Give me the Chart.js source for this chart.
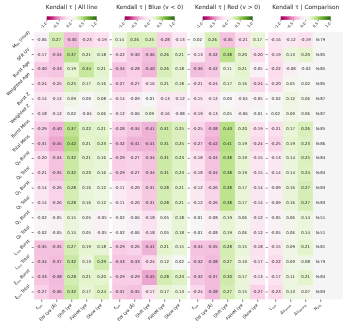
<!DOCTYPE html>
<html>
<head>
<meta charset="utf-8">
<script src="https://cdn.jsdelivr.net/npm/chart.js@4.4.0/dist/chart.umd.min.js"></script>
<style>
html,body{margin:0;padding:0;background:#fff}
#wrap{position:relative;width:347px;height:325px}
#wrap canvas{position:absolute;left:0;top:0}
</style>
</head>
<body>
<div id="wrap">
<canvas id="c0" width="347" height="325"></canvas>
<canvas id="c1" width="347" height="325"></canvas>
<canvas id="c2" width="347" height="325"></canvas>
<canvas id="c3" width="347" height="325"></canvas>
</div>
<script>
// rows / columns
const rowLabels = ['M_{bh} (mod)', 'SFR UV', 'Burst Age', 'Weighted Age', 'Burst Z', 'Weighted Z',
  'Burst Mass', 'Total Mass', 'Q_{0} Burst', 'Q_{0} Total', 'Q_{1} Burst', 'Q_{1} Total',
  'Q_{2} Burst', 'Q_{2} Total', 'L_{ion} Burst', 'L_{ion} Total', 'ξ_{ion} Burst', 'ξ_{ion} Total']
const lineCols = ['f_{Lyα}', 'EW Lyα (Å)', 'Shift Lyα', 'FWHM Lyα', 'Skew Lyα']
const cmpCols = ['L_{Lyα}', 'Δv_{weak}', 'Δv_{strong}', 'N_{obj}']
const titles = ['Kendall τ | All line', 'Kendall τ | Blue (v < 0)', 'Kendall τ | Red (v > 0)', 'Kendall τ | Comparison']
const cbTicks = [-1.0, -0.5, 0.0, 0.5, 1.0]

// kendall tau values
const tauAll = [
  [-0.06, 0.27, -0.36, -0.23, -0.19],
  [-0.17, -0.34, 0.37, 0.21, 0.18],
  [-0.30, -0.33, 0.19, 0.34, 0.21],
  [-0.24, -0.25, 0.25, 0.17, 0.16],
  [-0.14, -0.12, 0.09, 0.00, 0.08],
  [-0.18, -0.12, 0.02, -0.04, 0.06],
  [-0.29, -0.40, 0.37, 0.22, 0.21],
  [-0.31, -0.45, 0.42, 0.21, 0.23],
  [-0.20, -0.34, 0.32, 0.21, 0.16],
  [-0.21, -0.35, 0.32, 0.20, 0.16],
  [-0.14, -0.26, 0.28, 0.16, 0.12],
  [-0.14, -0.26, 0.28, 0.16, 0.12],
  [-0.02, -0.05, 0.15, 0.05, -0.05],
  [-0.02, -0.05, 0.15, 0.05, -0.05],
  [-0.35, -0.35, 0.27, 0.19, 0.18],
  [-0.34, -0.37, 0.32, 0.13, 0.29],
  [-0.33, -0.38, 0.28, 0.21, 0.20],
  [-0.27, -0.36, 0.32, 0.17, 0.24]
]
const tauBlue = [
  [0.14, 0.26, 0.25, -0.28, -0.13],
  [-0.22, -0.30, -0.36, 0.26, 0.21],
  [-0.34, -0.28, -0.40, 0.26, 0.18],
  [-0.27, -0.27, -0.16, 0.21, 0.18],
  [-0.14, -0.09, -0.01, -0.13, -0.12],
  [-0.12, -0.06, 0.09, -0.16, -0.08],
  [-0.28, -0.34, -0.41, 0.31, 0.25],
  [-0.32, -0.41, -0.41, 0.31, 0.25],
  [-0.29, -0.27, -0.34, 0.31, 0.23],
  [-0.29, -0.27, -0.34, 0.31, 0.23],
  [-0.11, -0.20, -0.31, 0.28, 0.21],
  [-0.11, -0.20, -0.31, 0.28, 0.21],
  [-0.02, -0.06, -0.18, 0.05, 0.18],
  [-0.02, -0.06, -0.18, 0.05, 0.18],
  [-0.29, -0.26, -0.41, 0.21, 0.15],
  [-0.33, -0.33, -0.24, 0.12, 0.02],
  [-0.29, -0.29, -0.45, 0.28, 0.23],
  [-0.31, -0.35, -0.17, 0.17, 0.13]
]
const tauRed = [
  [0.02, 0.26, -0.35, -0.21, 0.17],
  [-0.13, -0.32, 0.38, 0.20, -0.20],
  [-0.36, -0.32, 0.11, 0.21, -0.05],
  [-0.21, -0.24, 0.17, 0.16, -0.24],
  [-0.15, -0.12, 0.00, -0.04, -0.05],
  [-0.19, -0.13, 0.05, -0.06, -0.01],
  [-0.25, -0.38, 0.40, 0.20, -0.19],
  [-0.27, -0.42, 0.41, 0.19, -0.24],
  [-0.18, -0.34, 0.38, 0.19, -0.15],
  [-0.18, -0.34, 0.38, 0.19, -0.15],
  [-0.12, -0.26, 0.38, 0.17, -0.14],
  [-0.12, -0.26, 0.38, 0.17, -0.14],
  [-0.01, -0.08, 0.19, 0.06, -0.12],
  [-0.01, -0.08, 0.19, 0.06, -0.12],
  [-0.34, -0.35, 0.28, 0.15, -0.18],
  [-0.32, -0.38, 0.27, 0.10, -0.17],
  [-0.32, -0.37, 0.30, 0.17, -0.13],
  [-0.24, -0.38, 0.27, 0.15, -0.27]
]
const tauCmp = [
  [-0.16, -0.12, -0.19],
  [-0.19, 0.13, 0.20],
  [-0.22, -0.08, -0.02],
  [-0.20, 0.05, 0.02],
  [-0.02, 0.12, 0.06],
  [0.02, 0.09, 0.06],
  [-0.21, 0.17, 0.26],
  [-0.25, 0.19, 0.23],
  [-0.13, 0.14, 0.25],
  [-0.14, 0.14, 0.24],
  [-0.09, 0.16, 0.27],
  [-0.09, 0.16, 0.27],
  [-0.05, 0.06, 0.14],
  [-0.05, 0.06, 0.14],
  [-0.15, 0.09, 0.21],
  [-0.22, 0.09, 0.08],
  [-0.17, 0.11, 0.21],
  [-0.23, 0.13, 0.07]
]
const nObj = [79, 85, 85, 85, 87, 87, 85, 86, 84, 84, 83, 83, 51, 51, 81, 79, 84, 83]

// PiYG
const piyg = ['#8e0152', '#c51b7d', '#de77ae', '#f1b6da', '#fde0ef', '#f7f7f7', '#e6f5d0', '#b8e186', '#7fbc41', '#4d9221', '#276419']
function hex(c){ return [parseInt(c.slice(1,3),16), parseInt(c.slice(3,5),16), parseInt(c.slice(5,7),16)] }
function colorFor(v){
  let t = (v + 1) / 2 * 10
  t = Math.max(0, Math.min(10, t))
  let i = Math.min(9, Math.floor(t)), f = t - i
  let a = hex(piyg[i]), b = hex(piyg[i+1])
  return 'rgb(' + [0,1,2].map(k => Math.round(a[k] + (b[k]-a[k])*f)).join(',') + ')'
}
const emptyCol = '#f5f5f5'

const FONT = '"DejaVu Sans", sans-serif'
const top0 = 32.3, rowH = 14.84, colW = 15
const groupLeft = [34.2, 112.2, 190.2, 268.2]

function parseRich(s){
  let parts = s.split(/_\{([^}]*)\}/)
  return parts.map((t, i) => ({t: t, sub: i % 2 == 1})).filter(p => p.t.length)
}
function richWidth(ctx, segs, fs){
  let w = 0
  segs.forEach(p => { ctx.font = (p.sub ? fs*0.7 : fs) + 'px ' + FONT; w += ctx.measureText(p.t).width })
  return w
}
function drawRich(ctx, segs, x, y, fs){
  segs.forEach(p => {
    ctx.font = (p.sub ? fs*0.7 : fs) + 'px ' + FONT
    ctx.fillText(p.t, x, p.sub ? y + fs*0.25 : y)
    x += ctx.measureText(p.t).width
  })
}
// rotated 45deg label, bbox right edge at xr, bbox centre y (mode 'c') or top y (mode 't')
function rotLabel(ctx, s, xr, y, fs, mode){
  let segs = parseRich(s)
  let w = richWidth(ctx, segs, fs)
  let bb = (w + fs) / Math.SQRT2
  let cx = xr - bb/2, cy = mode == 'c' ? y : y + bb/2
  ctx.save()
  ctx.translate(cx, cy)
  ctx.rotate(-Math.PI/4)
  ctx.textAlign = 'left'
  ctx.textBaseline = 'middle'
  drawRich(ctx, segs, -w/2, 0, fs)
  ctx.restore()
}

function makeChart(g, values, colLabels, nCol){
  let slots = []
  for(let j = 0; j < 5; j++) slots.push(colLabels[j] || '')
  let datasets = rowLabels.map((lab, r) => {
    let cols = []
    for(let j = 0; j < 5; j++){
      if(j < values[r].length) cols.push(colorFor(values[r][j]))
      else cols.push(emptyCol)
    }
    return {label: lab, data: slots.map(() => [r, r + 1]), backgroundColor: cols, borderWidth: 0}
  })
  let heat = {
    id: 'heat' + g,
    afterDatasetsDraw(chart){
      let ctx = chart.ctx, ca = chart.chartArea
      let xs = chart.scales.x, ys = chart.scales.y, cb = chart.scales.cb
      ctx.save()
      // cell numbers
      ctx.fillStyle = '#222'
      ctx.font = '3.9px ' + FONT
      ctx.textAlign = 'center'
      ctx.textBaseline = 'middle'
      rowLabels.forEach((lab, r) => {
        let meta = chart.getDatasetMeta(r)
        meta.data.forEach((el, j) => {
          let cy = (el.y + el.base) / 2
          if(j < values[r].length) ctx.fillText(values[r][j].toFixed(2), el.x, cy)
          else if(g == 3 && j == 3) ctx.fillText('N:' + nObj[r], el.x, cy)
        })
      })
      // ticks
      ctx.strokeStyle = '#333'
      ctx.lineWidth = 0.6
      ctx.beginPath()
      rowLabels.forEach((lab, r) => {
        let y = ys.getPixelForValue(r + 0.5)
        ctx.moveTo(ca.left - 2.5, y); ctx.lineTo(ca.left - 0.5, y)
      })
      for(let j = 0; j < nCol; j++){
        let x = xs.getPixelForValue(j)
        ctx.moveTo(x, ca.bottom); ctx.lineTo(x, ca.bottom + 2.5)
      }
      ctx.stroke()
      ctx.fillStyle = '#222'
      // x labels
      for(let j = 0; j < nCol; j++)
        rotLabel(ctx, colLabels[j], xs.getPixelForValue(j) + 1, ca.bottom + 3.5, 4.2, 't')
      // y labels
      if(g == 0) rowLabels.forEach((lab, r) => rotLabel(ctx, lab, ca.left - 3.5, ys.getPixelForValue(r + 0.5), 4.4, 'c'))
      // colourbar
      let x0 = cb.getPixelForValue(-1), x1 = cb.getPixelForValue(1)
      let grad = ctx.createLinearGradient(x0, 0, x1, 0)
      piyg.forEach((c, i) => grad.addColorStop(i / 10, c))
      ctx.fillStyle = grad
      ctx.fillRect(x0, 16.3, x1 - x0, 3.6)
      ctx.strokeStyle = '#333'
      ctx.beginPath()
      cbTicks.forEach(t => { let x = cb.getPixelForValue(t); ctx.moveTo(x, 19.9); ctx.lineTo(x, 21.3) })
      ctx.stroke()
      ctx.fillStyle = '#222'
      cbTicks.forEach(t => rotLabel(ctx, t.toFixed(1), cb.getPixelForValue(t) + 1, 21.5, 3.8, 't'))
      // title
      ctx.font = '5.8px ' + FONT
      ctx.textAlign = 'center'
      ctx.textBaseline = 'middle'
      ctx.fillText(titles[g], (x0 + x1) / 2, 7.5)
      ctx.restore()
    }
  }
  let left = groupLeft[g]
  return new Chart(document.getElementById('c' + g), {
    type: 'bar',
    data: {labels: slots, datasets: datasets},
    options: {
      responsive: false,
      animation: false,
      devicePixelRatio: 1,
      layout: {padding: {left: left, right: 347 - (left + 5 * colW), top: top0, bottom: 325 - (top0 + 18 * rowH)}},
      plugins: {legend: {display: false}, tooltip: {enabled: false}},
      datasets: {bar: {grouped: false, barPercentage: 1, categoryPercentage: 1}},
      scales: {
        x: {type: 'category', display: false, offset: true},
        y: {type: 'linear', display: false, min: 0, max: 18, reverse: true},
        cb: {type: 'linear', axis: 'x', display: false, min: -1, max: 1}
      }
    },
    plugins: [heat]
  })
}

makeChart(0, tauAll, lineCols, 5)
makeChart(1, tauBlue, lineCols, 5)
makeChart(2, tauRed, lineCols, 5)
makeChart(3, tauCmp, cmpCols, 4)
</script>
</body>
</html>
